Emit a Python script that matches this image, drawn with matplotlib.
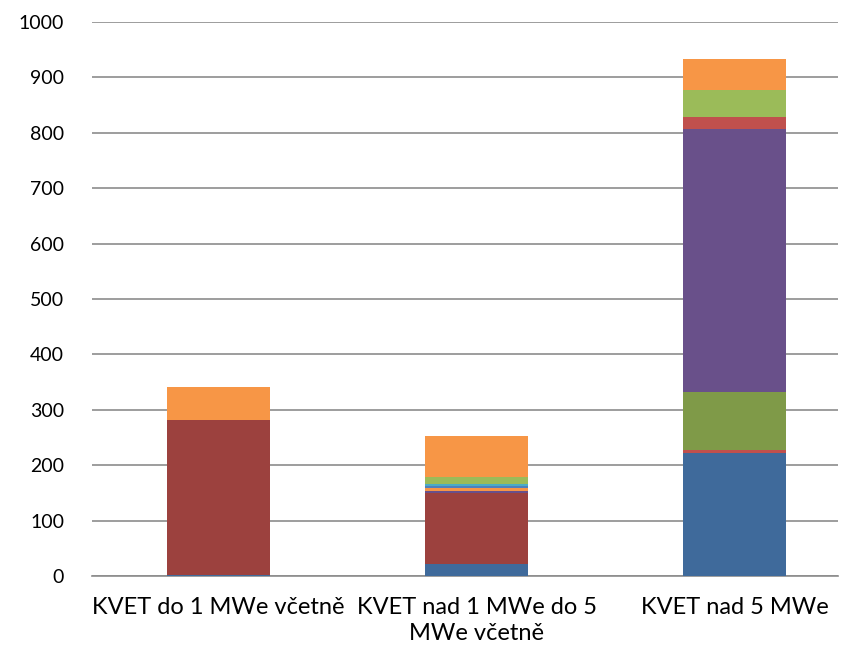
import matplotlib
matplotlib.use("Agg")
import matplotlib.pyplot as plt
import numpy as np

# categories and stacked segments (bottom to top)
categories = ["KVET do 1 MWe včetně", "KVET nad 1 MWe do 5\nMWe včetně", "KVET nad 5 MWe"]

s_blue_dark = [1, 22, 222]
s_red_dark = [280, 128, 0]
s_red_thin = [0, 0, 5]
s_olive = [0, 0, 106]
s_purple = [0, 4, 474]
s_orange_thin = [0, 4, 0]
s_blue_thin = [0, 4, 0]
s_aqua = [1, 4, 0]
s_red = [0, 0, 21]
s_green = [0, 13, 49]
s_orange = [60, 74, 57]

series = [s_blue_dark, s_red_dark, s_red_thin, s_olive, s_purple,
          s_orange_thin, s_blue_thin, s_aqua, s_red, s_green, s_orange]
colors = ["#3F6A9B", "#9C413E", "#C0504D", "#7F9A48", "#69508A",
          "#F79646", "#4F81BD", "#4BACC6", "#C0504D", "#9BBB59", "#F79646"]

plt.rcParams['font.family'] = ['Lato', 'DejaVu Sans']

fig = plt.figure(figsize=(8.46, 6.54), dpi=100)
ax = fig.add_axes([92/846, 1 - 576/654, (838 - 92)/846, (576 - 22)/654])

x = np.arange(len(categories))
bottom = np.zeros(len(categories))
for vals, c in zip(series, colors):
    ax.bar(x, vals, width=0.4, bottom=bottom, color=c, zorder=3)
    bottom += np.array(vals)

ax.set_ylim(0, 1000)
ax.set_xlim(-0.49, 2.40)
ax.set_yticks(range(0, 1001, 100))
ax.yaxis.grid(True, color="#8C8C8C", linewidth=1.2, zorder=0)
ax.set_xticks(x)
ax.set_xticklabels(categories, fontsize=17, linespacing=1.3)
ax.tick_params(axis="y", labelsize=14, length=0, pad=20)
ax.tick_params(axis="x", length=0, pad=15)
for side in ["top", "right", "left"]:
    ax.spines[side].set_visible(False)
ax.spines["bottom"].set_color("#8C8C8C")
ax.spines["bottom"].set_linewidth(1.2)

fig.savefig("out.png", dpi=100)
